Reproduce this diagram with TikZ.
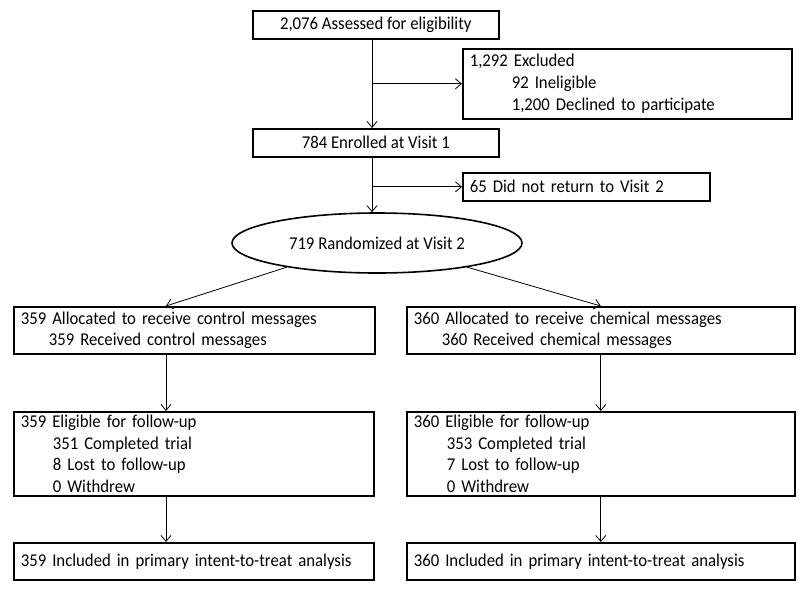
\documentclass[tikz,border=0pt]{standalone}
\usepackage{fontspec}
\setmainfont{Carlito}[FakeStretch=0.93]
\usetikzlibrary{shapes.geometric,arrows.meta}
\newcommand{\skipin}[1]{\hspace*{#1}}
\tikzset{
  box/.style={draw,line width=1.6pt,anchor=north west,inner xsep=7pt,inner ysep=0pt,
    font=\fontsize{18}{21.7}\selectfont},
  lbox/.style={box,align=left},
  flow/.style={line width=.8pt,-{Straight Barb[length=6pt,width=10pt]}},
}

\begin{document}
\begin{tikzpicture}[x=1pt,y=-1pt]
      %\draw[step=50,gray,very thin] (0,0) grid (800,600);
      \useasboundingbox (0,0) rectangle (800,600);
      \node[box,align=center,minimum width=246pt,minimum height=28pt] (assess) at (252,10) {2,076 Assessed for eligibility};
      \node[lbox,text width=315pt,minimum height=70pt] (excl) at (462,48) {1,292 Excluded\\\skipin{42pt}92 Ineligible\\\skipin{42pt}1,200 Declined to participate};
      \node[box,align=center,minimum width=246pt,minimum height=28pt] (enrol) at (252,128) {784 Enrolled at Visit 1};
      \node[lbox,text width=233pt,minimum height=28pt] (dnr) at (462,172) {65 Did not return to Visit 2};
      \node[box,ellipse,anchor=center,align=center,minimum width=290pt,minimum height=60pt] (rand) at (377,243) {719 Randomized at Visit 2};
      % control arm
      \node[lbox,text width=347pt,minimum height=47pt] (ctrlalloc) at (13,306) {359 Allocated to receive control messages\\\skipin{28pt}359 Received control messages};
      \node[lbox,text width=346pt,minimum height=84pt] (ctrlelig) at (13,411) {359 Eligible for follow-up\\\skipin{32pt}351 Completed trial\\\skipin{32pt}8 Lost to follow-up\\\skipin{32pt}0 Withdrew};
      \node[lbox,text width=346pt,minimum height=37pt] (ctrlitt) at (13,542) {359 Included in primary intent-to-treat analysis};
      % chemical arm
      \node[lbox,text width=374pt,minimum height=47pt] (chemalloc) at (406,306) {360 Allocated to receive chemical messages\\\skipin{28pt}360 Received chemical messages};
      \node[lbox,text width=374pt,minimum height=84pt] (chemelig) at (406,411) {360 Eligible for follow-up\\\skipin{33pt}353 Completed trial\\\skipin{33pt}7 Lost to follow-up\\\skipin{33pt}0 Withdrew};
      \node[lbox,text width=374pt,minimum height=37pt] (chemitt) at (406,542) {360 Included in primary intent-to-treat analysis};
      \coordinate (spine) at (372,0);
      \coordinate (lcol) at (166,0);
      \draw[flow] (assess.south -| spine) -- (enrol.north -| spine);
      \draw[flow] (spine |- excl.west) -- (excl.west);
      \draw[flow] (enrol.south -| spine) -- (rand.north -| spine);
      \draw[flow] (spine |- dnr.west) -- (dnr.west);
      \draw[flow] (rand.195) -- (ctrlalloc.north -| lcol);
      \draw[flow] (rand.345) -- (chemalloc.north);
      \draw[flow] (ctrlalloc.south -| lcol) -- (ctrlelig.north -| lcol);
      \draw[flow] (ctrlelig.south -| lcol) -- (ctrlitt.north -| lcol);
      \draw[flow] (chemalloc.south) -- (chemelig.north);
      \draw[flow] (chemelig.south) -- (chemitt.north);
\end{tikzpicture}
\end{document}
